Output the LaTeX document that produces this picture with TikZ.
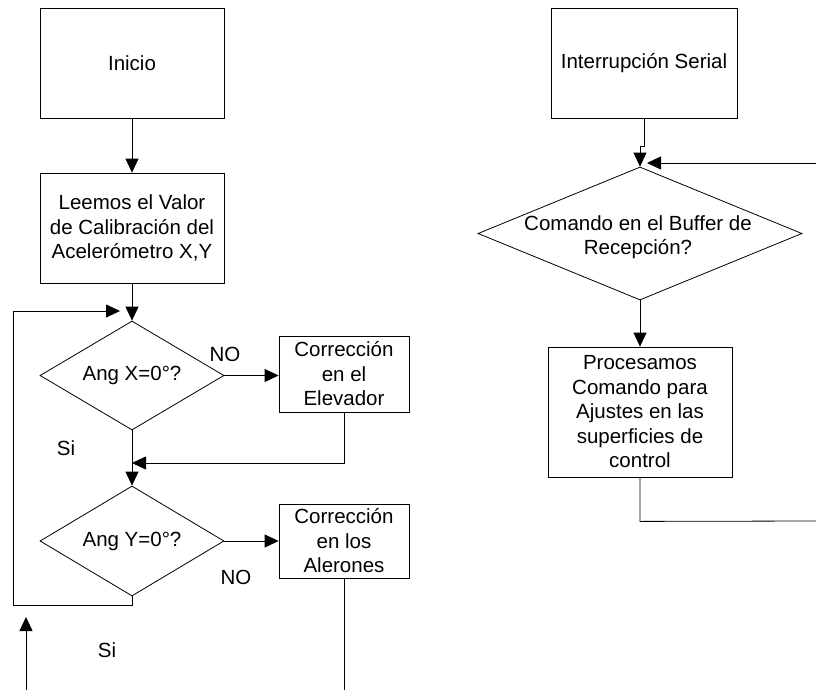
\documentclass[tikz,border=0pt]{standalone}
\usepackage{fontspec}
\setmainfont{Liberation Sans}
\usetikzlibrary{shapes.geometric,arrows.meta}
\begin{document}
\begin{tikzpicture}[x=1pt,y=-1pt,
  line width=0.8pt,
  font=\fontsize{20.5pt}{24.5pt}\selectfont,
  box/.style={draw, rectangle, inner sep=0pt, align=center},
  dec/.style={draw, diamond, inner sep=0pt},
  arr/.style={-{Triangle[length=14pt,width=13pt]}},
  lbl/.style={inner sep=0pt}]
\useasboundingbox (0,0) rectangle (816,690);
\fill[white] (0,0) rectangle (816,690);
% left flow
\node[box, minimum width=184pt, minimum height=110pt] (ini) at (132,63) {Inicio};
\node[box, minimum width=184pt, minimum height=110pt] (lee) at (132,228) {Leemos el Valor\\de Calibración del\\Acelerómetro X,Y};
\node[dec, minimum width=184pt, minimum height=109pt, label={center:Ang X=0°?}] (dx) at (132,375.5) {};
\node[dec, minimum width=184pt, minimum height=110pt, label={center:Ang Y=0°?}] (dy) at (132,541) {};
\node[box, minimum width=130pt, minimum height=76pt] (elev) at (344,374) {Corrección\\en el\\Elevador};
\node[box, minimum width=130pt, minimum height=74pt] (aler) at (344,541) {Corrección\\en los\\Alerones};
\node[lbl] (no1) at (225,354) {NO};
\node[lbl] (si1) at (66,448) {Si};
\node[lbl] (no2) at (236,577) {NO};
\node[lbl] (si2) at (107,650) {Si};
\coordinate (m1) at (132,463);
\coordinate (lp) at (120,311);
\coordinate (lc) at (13,311);
\coordinate (ab) at (344,690);
\coordinate (bs) at (26,690);
\coordinate (bt) at (26,617);
\draw[arr] (ini.south) -- (lee.north);
\draw[arr] (lee.south) -- (dx.north);
\draw[arr] (dx.east) -- (dx.east -| elev.west);
\draw[arr] (elev.south) |- (m1);
\draw[arr] (dx.south) -- (dy.north);
\draw[arr] (dy.east) -- (aler.west);
\draw[arr] (dy.south) -- ++(0,9) -| (lc) -- (lp);
\draw (aler.south) -- (ab);
\draw[arr] (bs) -- (bt);
% right flow
\node[box, minimum width=186pt, minimum height=110pt] (int) at (644,63) {Interrupción Serial};
\node[dec, minimum width=324pt, minimum height=133pt] (dc) at (640,233.5) {};
\node[lbl, align=center] (dct) at (638,237) {Comando en el Buffer de\\Recepción?};
\node[box, minimum width=184pt, minimum height=130pt] (proc) at (640,412) {Procesamos\\Comando para\\Ajustes en las\\superficies de\\control};
\coordinate (rs) at (816,163);
\coordinate (re) at (647,163);
\coordinate (pe) at (816,521);
\draw[arr] (int.south) -- ++(0,28) -- ++(-4,0) -- (dc.north);
\draw[arr] (rs) -- (re);
\draw[arr] (dc.south) -- (proc.north);
\draw (proc.south) -- ++(0,44) -- (pe);
\end{tikzpicture}
\end{document}
